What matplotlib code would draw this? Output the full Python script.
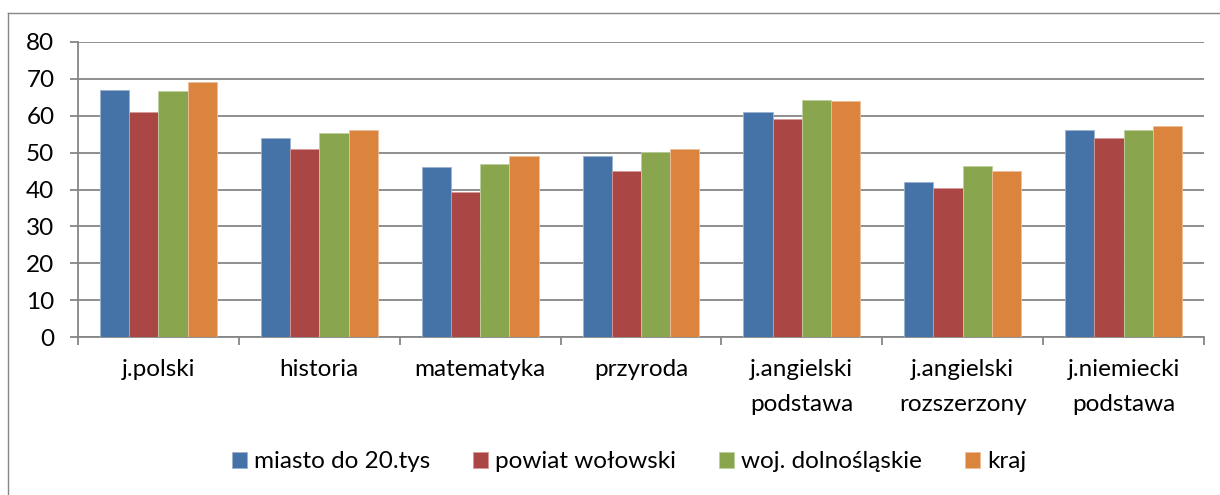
import matplotlib
matplotlib.use("Agg")
import matplotlib.pyplot as plt
import numpy as np
from matplotlib.lines import Line2D

categories = ["j.polski", "historia", "matematyka", "przyroda",
              "j.angielski\npodstawa", "j.angielski\nrozszerzony", "j.niemiecki\npodstawa"]
series_names = ["miasto do 20.tys", "powiat wołowski", "woj. dolnośląskie", "kraj"]
miasto = [67.0, 54.0, 46.0, 49.1, 61.1, 42.1, 56.1]
powiat = [61.1, 50.9, 39.2, 44.9, 59.2, 40.3, 53.9]
woj = [66.8, 55.2, 47.0, 50.3, 64.4, 46.4, 56.2]
kraj = [69.1, 56.1, 49.1, 51.1, 64.0, 45.1, 57.1]
yticks = [0, 10, 20, 30, 40, 50, 60, 70, 80]

colors = ["#4572A7", "#AA4643", "#89A54E", "#DB843D"]
edges = ["#9DB3D2", "#D49A98", "#BFD0A0", "#EDBE9A"]
grid_c = "#868686"

plt.rcParams["font.family"] = ["Lato", "DejaVu Sans"]
FS = 17.5

W, H = 1220, 495
fig = plt.figure(figsize=(W / 100, H / 100), dpi=100)
ax = fig.add_axes([78 / W, 1 - 337 / H, (1204 - 78) / W, (337 - 42) / H])

data = [miasto, powiat, woj, kraj]
x = np.arange(len(categories))
bw = 1 / (4 + 1.5)
for i, (vals, c, ec) in enumerate(zip(data, colors, edges)):
    ax.bar(x + (i - 1.5) * bw, vals, width=bw, color=c, edgecolor=ec,
           linewidth=0.6, zorder=3, label=series_names[i])

ax.set_xlim(-0.5, len(categories) - 0.5)
ax.set_ylim(0, 80)
ax.set_yticks(yticks)
ax.set_yticklabels([str(v) for v in yticks], fontsize=FS)
ax.yaxis.grid(True, color=grid_c, linewidth=1.3)
ax.set_axisbelow(True)

ax.set_xticks(x)
ax.set_xticklabels(categories, fontsize=FS, linespacing=1.8)
ax.set_xticks(np.arange(len(categories) + 1) - 0.5, minor=True)
ax.tick_params(axis="x", which="major", length=0, pad=16)
ax.tick_params(axis="x", which="minor", length=6, width=1.3, color=grid_c, direction="out")
ax.tick_params(axis="y", length=6, width=1.3, color=grid_c, pad=11)

for s in ["top", "right"]:
    ax.spines[s].set_visible(False)
for s in ["left", "bottom"]:
    ax.spines[s].set_color(grid_c)
    ax.spines[s].set_linewidth(1.3)

# outer chart-area border (clipped at right and bottom)
fig.add_artist(Line2D([8 / W, 1.0], [1 - 13 / H, 1 - 13 / H], color=grid_c,
                      linewidth=1.0, transform=fig.transFigure))
fig.add_artist(Line2D([8 / W, 8 / W], [1 - 13 / H, 0.0], color=grid_c,
                      linewidth=1.0, transform=fig.transFigure))

handles, labels = ax.get_legend_handles_labels()
fig.legend(handles, labels, loc="center", bbox_to_anchor=(629 / W, 1 - 462 / H),
           ncol=4, frameon=False, fontsize=FS, handlelength=0.62, handleheight=0.62,
           handletextpad=0.3, columnspacing=1.75)

fig.savefig("out.png", dpi=100)
